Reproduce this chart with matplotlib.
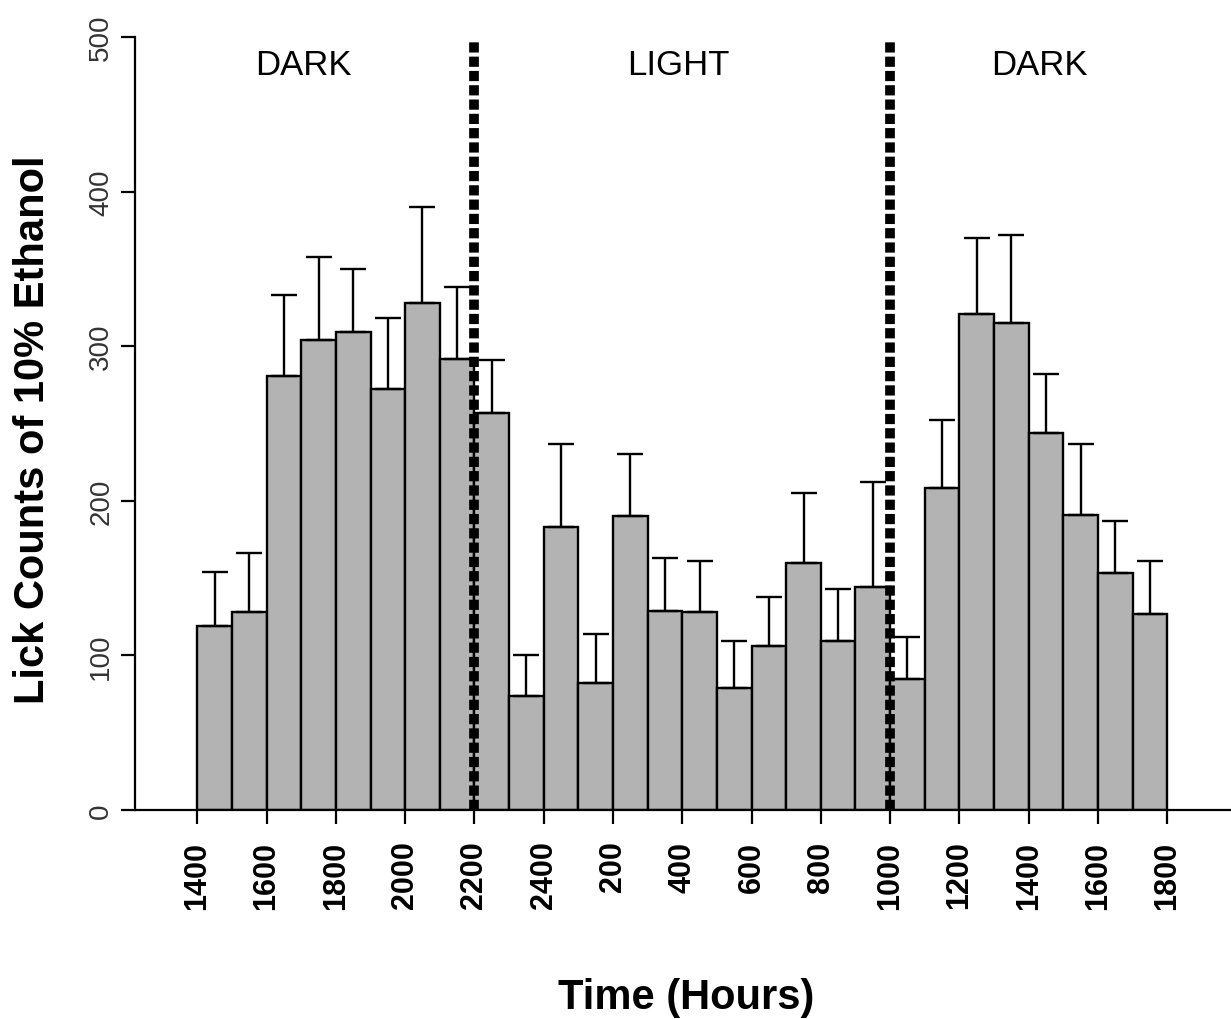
import numpy as np
import matplotlib
matplotlib.use("Agg")
import matplotlib.pyplot as plt

plt.rcParams['font.family'] = ['Liberation Sans', 'DejaVu Sans']

# ---- data ----
hours = ["1400", "1500", "1600", "1700", "1800", "1900", "2000", "2100", "2200",
         "2300", "2400", "100", "200", "300", "400", "500", "600", "700", "800",
         "900", "1000", "1100", "1200", "1300", "1400", "1500", "1600", "1700"]
means = [119, 128, 281, 304, 309, 272, 328, 292, 257, 74, 183, 82, 190, 129,
         128, 79, 106, 160, 109, 144, 85, 208, 321, 315, 244, 191, 153, 127]
upper = [154, 166, 333, 358, 350, 318, 390, 338, 291, 100, 237, 114, 230, 163,
         161, 109, 138, 205, 143, 212, 112, 252, 370, 372, 282, 237, 187, 161]
tick_labels = ["1400", "1600", "1800", "2000", "2200", "2400", "200", "400",
               "600", "800", "1000", "1200", "1400", "1600", "1800"]
y_ticks = [0, 100, 200, 300, 400, 500]
phase_labels = ["DARK", "LIGHT", "DARK"]
phase_x = [3.05, 13.9, 24.3]
phase_bounds = [8, 20]

means = np.array(means, dtype=float)
errs = np.array(upper, dtype=float) - means
n = len(means)
centers = np.arange(n) + 0.5

W, H = 1231, 1020
fig = plt.figure(figsize=(W / 100, H / 100), dpi=100)
ax = fig.add_axes([135 / W, (H - 811) / H, (W - 135) / W, (811 - 38) / H])

ax.bar(centers, means, width=1.0, color="#b3b3b3", edgecolor="black",
       linewidth=1.7, zorder=2)
ax.errorbar(centers, means, yerr=[np.zeros(n), errs], fmt="none",
            ecolor="black", elinewidth=1.7, capsize=9.3, capthick=1.7, zorder=3)

ax.vlines(phase_bounds, 0, 498, colors="black", linewidth=7.0,
          linestyles=(0, (1.05, 0.42)), zorder=4)

for lab, xp in zip(phase_labels, phase_x):
    ax.text(xp, 482, lab, ha="center", va="center", fontsize=25, color="black")

px_left = 197.3
px_w = 34.64
ax.set_xlim((135 - px_left) / px_w, (W - px_left) / px_w)
ax.set_ylim(0, 500)

ax.spines["top"].set_visible(False)
ax.spines["right"].set_visible(False)
ax.spines["left"].set_linewidth(1.6)
ax.spines["bottom"].set_linewidth(1.6)
ax.spines["left"].set_bounds(0, 500)

ax.set_xticks(np.arange(0, n + 1, 2))
ax.set_xticklabels(tick_labels, rotation=90, fontsize=22, fontweight="bold")
ax.set_yticks(y_ticks)
ax.set_yticklabels([str(v) for v in y_ticks], rotation=90, fontsize=20,
                   color="#333333", va="center")
ax.tick_params(axis="x", length=10, width=1.6, pad=12)
ax.tick_params(axis="y", length=10, width=1.6, pad=5)

fig.text(33 / W, 1 - 430 / H, "Lick Counts of 10% Ethanol", rotation=90,
         ha="center", va="center", fontsize=30, fontweight="bold")
fig.text(686 / W, 1 - 998 / H, "Time (Hours)", ha="center", va="center",
         fontsize=30, fontweight="bold")

fig.savefig("out.png", dpi=100)
